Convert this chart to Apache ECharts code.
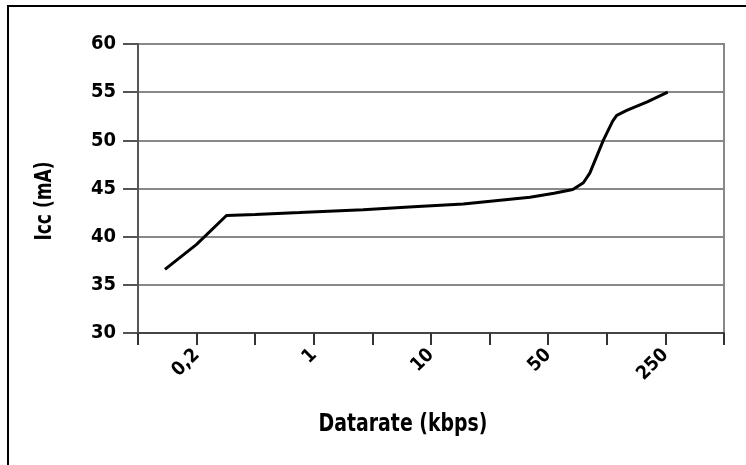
<!DOCTYPE html>
<html>
<head>
<meta charset="utf-8">
<script src="https://cdn.jsdelivr.net/npm/echarts@6/dist/echarts.min.js"></script>
<style>html,body{margin:0;padding:0;background:#fff}#c{width:746px;height:465px}</style>
</head>
<body>
<div id="c"></div>
<script>
// x positions are in tick-slot units (0..10) of the original axis; labels sit on odd ticks
var tickLabels = {1: '0,2', 3: '1', 5: '10', 7: '50', 9: '250'};
var xPos = [0.46, 1.0, 1.51, 2.0, 2.76, 3.84, 4.7, 5.55, 6.69, 7.1, 7.42, 7.6, 7.71, 7.94, 8.1, 8.17, 8.34, 8.69, 9.04];
var icc  = [36.6, 39.2, 42.2, 42.3, 42.5, 42.8, 43.1, 43.4, 44.1, 44.5, 44.9, 45.6, 46.6, 50.0, 52.0, 52.6, 53.1, 54.0, 55.0];
var yTitle = 'Icc (mA)';
var xTitle = 'Datarate (kbps)';

var font = "'Liberation Sans Narrow', 'DejaVu Sans Condensed', 'Arial Narrow', sans-serif";
var tickFont = 'DejaVu Sans Condensed';
var pts = xPos.map(function (x, i) { return [x, icc[i]]; });

var chart = echarts.init(document.getElementById('c'));
chart.setOption({
  animation: false,
  backgroundColor: '#fff',
  grid: {left: 138, right: 22, top: 44, bottom: 132, show: true, borderColor: '#888', borderWidth: 2},
  xAxis: {
    type: 'value', min: 0, max: 10, interval: 1,
    axisLine: {onZero: false, lineStyle: {color: '#444', width: 2}},
    axisTick: {show: true, length: 12, lineStyle: {color: '#333', width: 2}},
    splitLine: {show: false},
    axisLabel: {
      rotate: 45, margin: 19, color: '#000', fontFamily: tickFont, fontWeight: 'bold', fontSize: 19,
      formatter: function (v) { return tickLabels[Math.round(v)] || ''; }
    }
  },
  yAxis: {
    type: 'value', min: 30, max: 60, interval: 5,
    axisLine: {show: true, lineStyle: {color: '#555', width: 2}},
    axisTick: {show: true, length: 15, lineStyle: {color: '#555', width: 2}},
    splitLine: {show: true, lineStyle: {color: '#888', width: 2}},
    axisLabel: {margin: 22, color: '#000', fontFamily: tickFont, fontWeight: 'bold', fontSize: 20}
  },
  series: [{
    type: 'line', data: pts, showSymbol: false, smooth: false,
    lineStyle: {color: '#000', width: 3}
  }],
  graphic: [
    {type: 'rect', shape: {x: 8, y: 6, width: 760, height: 480}, style: {fill: 'none', stroke: '#000', lineWidth: 2}, silent: true},
    {type: 'text', x: 45, y: 201, rotation: Math.PI / 2, scaleY: 1.2,
      style: {text: yTitle, fill: '#000', font: 'bold 19px ' + font, align: 'center', verticalAlign: 'middle'}},
    {type: 'text', x: 403, y: 424, scaleY: 1.2,
      style: {text: xTitle, fill: '#000', font: 'bold 21px ' + font, align: 'center', verticalAlign: 'middle'}}
  ]
});
</script>
</body>
</html>
